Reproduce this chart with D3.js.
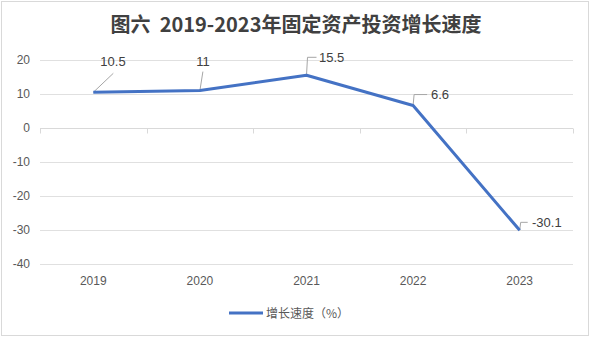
<!DOCTYPE html>
<html><head><meta charset="utf-8">
<script src="https://cdn.jsdelivr.net/npm/d3@7"></script>
<style>
body{margin:0;background:#fff;}
svg{display:block;font-family:"Liberation Sans","DejaVu Sans",sans-serif;}
</style></head>
<body><svg id="c" width="591" height="338"></svg>
<script>
const years = ["2019","2020","2021","2022","2023"];
const growth = [10.5, 11, 15.5, 6.6, -30.1];
const yTicks = [20,10,0,-10,-20,-30,-40];
const titleText = "图六  2019-2023年固定资产投资增长速度";
const legendText = "增长速度（%）";
// label offsets (dx,dy) for leader lines, styling only
const labelPos = [[20,-19],[3,-19],[10,-18],[14,-11],[8,-8]];

const svg = d3.select("#c");
svg.append("rect").attr("x",1.5).attr("y",1.5).attr("width",587).attr("height",334)
  .attr("fill","#fff").attr("stroke","#d9d9d9");

svg.append("text").attr("x",296).attr("y",32).attr("text-anchor","middle")
  .attr("font-family","'Noto Sans CJK SC',sans-serif").attr("font-weight","bold")
  .style("white-space","pre")
  .attr("font-size",20).attr("fill","#404040").text(titleText);

const x = d3.scaleBand().domain(years).range([40,573]);
const y = d3.scaleLinear().domain([-40,20]).range([264,60]);

const g = svg.append("g");
g.selectAll("line.grid").data(yTicks).join("line").attr("class","grid")
  .attr("x1",40).attr("x2",573).attr("y1",d=>Math.round(y(d))+0.5).attr("y2",d=>Math.round(y(d))+0.5)
  .attr("stroke","#e0e0e0").attr("stroke-width",1);

// y axis labels
const ya = svg.append("g").attr("transform","translate(40,0)")
  .call(d3.axisLeft(y).tickValues(yTicks).tickFormat(d=>String(d)).tickSize(0).tickPadding(10));
ya.select(".domain").remove();
ya.selectAll("text").attr("font-size",12).attr("fill","#595959").attr("font-family","'Liberation Sans',sans-serif");

// x axis at zero with tick marks at boundaries
const y0 = Math.round(y(0))+0.5;
svg.append("line").attr("x1",40).attr("x2",573).attr("y1",y0).attr("y2",y0).attr("stroke","#d9d9d9");
const bounds = years.map(d=>x(d)).concat([x.range()[1]]);
svg.selectAll("line.tk").data(bounds).join("line").attr("class","tk")
  .attr("x1",d=>Math.round(d)+0.5).attr("x2",d=>Math.round(d)+0.5).attr("y1",y0).attr("y2",y0+5)
  .attr("stroke","#d9d9d9");

// x labels at bottom
svg.selectAll("text.xl").data(years).join("text").attr("class","xl")
  .attr("x",d=>x(d)+x.bandwidth()/2).attr("y",285).attr("text-anchor","middle")
  .attr("font-size",12).attr("fill","#595959").text(d=>d);

const pts = years.map((d,i)=>({yr:d,v:growth[i],px:x(d)+x.bandwidth()/2,py:y(growth[i])}));

// leader lines
pts.forEach((p,i)=>{
  const [dx,dy]=labelPos[i];
  let path;
  if(i<2) path=`M${p.px},${p.py}L${p.px+dx},${p.py+dy}`;
  else path=`M${p.px},${p.py}L${p.px+1},${p.py+dy}L${p.px+dx},${p.py+dy}`;
  svg.append("path").attr("d",path).attr("fill","none").attr("stroke","#a6a6a6").attr("stroke-width",1);
});

svg.append("path").datum(pts)
  .attr("d",d3.line().x(d=>d.px).y(d=>d.py))
  .attr("fill","none").attr("stroke","#4472C4").attr("stroke-width",3).attr("stroke-linejoin","round");

// labels
const lab = [[113,66,"middle"],[203,66,"middle"],[319,62,"start"],[431,99,"start"],[532,227,"start"]];
pts.forEach((p,i)=>{
  svg.append("text").attr("x",lab[i][0]).attr("y",lab[i][1]).attr("text-anchor",lab[i][2])
    .attr("font-size",13).attr("fill","#404040").text(String(p.v));
});

// legend
svg.append("line").attr("x1",229).attr("x2",263).attr("y1",313).attr("y2",313)
  .attr("stroke","#4472C4").attr("stroke-width",3);
svg.append("text").attr("x",266).attr("y",318).attr("font-size",12)
  .attr("font-family","'Noto Sans CJK SC',sans-serif").attr("fill","#595959").text(legendText);
</script></body></html>
